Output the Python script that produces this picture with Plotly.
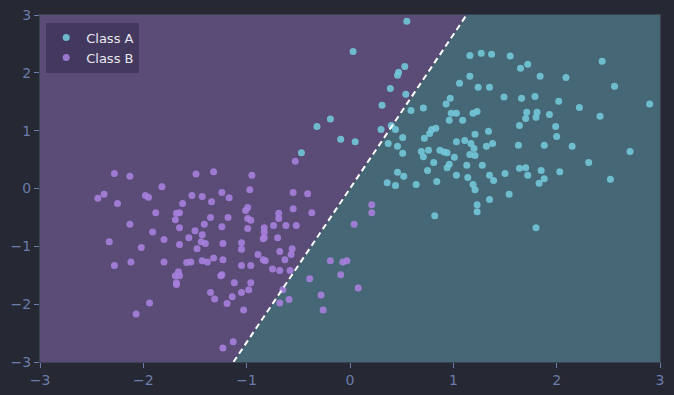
import plotly.graph_objects as go

# ---- data ----
class_a_x = [0.36, 0.44, 0.64, 0.84, 0.82, 0.55, 0.03, 0.53, 0.47, 0.46, 0.39, 0.54, 0.31, -0.19, -0.32,
             -0.09, 0.05, -0.47, 0.30, 0.40, 0.44, 0.59, 0.71, 0.97, 0.93, 0.98, 1.03, 0.96, 1.06, 0.83,
             0.79, 0.77, 0.51, 0.72, 0.37, 0.46, 0.51, 1.03, 0.69, 0.76, 0.71, 0.87, 0.91, 0.94, 1.01,
             0.81, 0.96, 0.94, 0.75, 1.03, 0.46, 0.52, 1.16, 1.27, 1.37, 1.55, 1.65, 1.72, 2.44, 1.16,
             1.24, 1.35, 1.84, 2.09, 2.56, 1.49, 1.66, 1.79, 2.02, 2.22, 2.90, 1.09, 1.19, 1.23, 1.71,
             1.70, 1.81, 1.80, 1.93, 2.42, 1.64, 1.99, 2.00, 1.34, 1.21, 1.11, 1.17, 1.20, 1.32, 1.38,
             1.63, 1.88, 2.15, 2.71, 1.16, 1.21, 2.31, 1.13, 1.28, 1.64, 1.70, 1.85, 2.03, 1.50, 1.35,
             1.39, 1.72, 1.88, 1.83, 1.14, 1.19, 1.21, 2.52, 1.54, 1.35, 1.23, 1.23, 1.80]
class_a_y = [0.10, 0.05, 0.07, 0.12, -0.47, 2.89, 2.37, 2.11, 2.01, 1.96, 1.73, 1.63, 1.44, 1.20, 1.07,
             0.85, 0.81, 0.62, 1.02, 1.09, 1.02, 1.35, 1.39, 1.56, 1.46, 1.30, 1.30, 1.18, 1.82, 1.04,
             1.02, 0.95, 0.88, 0.87, 0.78, 0.73, 0.61, 0.81, 0.64, 0.66, 0.55, 0.66, 0.63, 0.62, 0.54,
             0.45, 0.42, 0.36, 0.31, 0.23, 0.28, 0.21, 2.30, 2.34, 2.32, 2.29, 2.08, 2.15, 2.20, 1.94,
             1.75, 1.75, 1.94, 1.92, 1.77, 1.58, 1.56, 1.59, 1.51, 1.40, 1.46, 1.18, 1.30, 1.33, 1.32,
             1.21, 1.32, 1.23, 1.28, 1.25, 1.09, 1.07, 0.90, 0.99, 0.94, 0.83, 0.78, 0.69, 0.73, 0.78,
             0.75, 0.75, 0.73, 0.64, 0.59, 0.57, 0.45, 0.40, 0.40, 0.35, 0.36, 0.31, 0.29, 0.26, 0.23,
             0.14, 0.23, 0.17, 0.09, 0.19, 0.07, -0.02, 0.16, -0.10, -0.19, -0.28, -0.40, -0.68]

class_b_x = [-2.28, -2.13, -1.49, -1.32, -1.82, -2.44, -2.38, -1.98, -1.95, -1.53, -1.43, -1.24, -1.17,
             -1.34, -2.25, -1.62, -1.88, -1.68, -1.65, -1.69, -1.35, -1.18, -2.13, -1.41, -1.24, -1.65,
             -1.91, -1.50, -1.43, -1.56, -1.80, -2.33, -1.44, -1.40, -1.65, -1.23, -2.02, -1.48, -2.12,
             -1.80, -2.28, -1.58, -1.54, -1.43, -1.38, -1.32, -1.23, -1.66, -1.69, -1.65, -1.68, -1.68,
             -1.24, -1.25, -1.12, -1.35, -1.31, -1.14, -1.19, -1.94, -2.07, -1.23, -1.13, -0.97, -0.55,
             -0.41, -1.01, -0.99, -0.55, -0.69, -0.69, -0.37, -0.99, -0.96, -0.99, -0.83, -0.83, -0.74,
             -0.62, -0.52, -0.84, -0.83, -0.70, -1.05, -1.05, -0.68, -0.56, -0.57, -0.89, -0.63, -0.84,
             -0.82, -1.05, -0.96, -0.75, -0.68, -0.58, -0.96, -0.98, -1.05, -1.03, -0.65, -0.68, -0.59,
             -0.95, -0.53, 0.21, 0.21, 0.04, -0.19, -0.07, -0.03, -0.39, -0.09, 0.08, -0.28, -0.26]
class_b_y = [0.26, 0.21, 0.25, 0.29, 0.03, -0.17, -0.10, -0.12, -0.15, -0.12, -0.14, -0.07, -0.16,
             -0.23, -0.26, -0.26, -0.42, -0.43, -0.42, -0.54, -0.50, -0.50, -0.62, -0.62, -0.66, -0.68,
             -0.75, -0.73, -0.80, -0.85, -0.88, -0.92, -0.92, -0.95, -0.97, -0.95, -1.02, -1.04, -1.27,
             -1.27, -1.33, -1.28, -1.27, -1.25, -1.27, -1.20, -1.23, -1.44, -1.51, -1.51, -1.63, -1.66,
             -1.49, -1.51, -1.63, -1.80, -1.91, -1.87, -1.99, -1.98, -2.17, -2.76, -2.65, -0.02, -0.07,
             -0.09, -0.38, -0.33, -0.35, -0.43, -0.52, -0.42, -0.52, -0.55, -0.69, -0.68, -0.75, -0.64,
             -0.64, -0.64, -0.87, -0.85, -0.85, -0.94, -1.05, -1.09, -1.04, -1.14, -1.14, -1.23, -1.23,
             -1.25, -1.33, -1.33, -1.39, -1.42, -1.42, -1.63, -1.75, -1.80, -2.10, -1.75, -1.98, -1.92,
             0.23, 0.47, -0.28, -0.42, -0.62, -1.25, -1.27, -1.25, -1.56, -1.49, -1.72, -1.84, -2.10]

# decision boundary: y = slope * x + intercept
boundary_slope = 2.66
boundary_intercept = 0.0
axis_range = [-3, 3]
tick_vals = [-3, -2, -1, 0, 1, 2, 3]

# ---- styling ----
BG = "#262833"
PURPLE_REGION = "#5a4c77"
TEAL_REGION = "#466876"
COL_A = "#72c6d8"
COL_B = "#a57fdc"
TICK_COL = "#6c7cab"

lo, hi = axis_range
x_at_lo = (lo - boundary_intercept) / boundary_slope
x_at_hi = (hi - boundary_intercept) / boundary_slope

fig = go.Figure()

# region polygons (upper-left = class B region, lower-right = class A region)
fig.add_trace(go.Scatter(
    x=[lo, x_at_lo, x_at_hi, lo, lo], y=[lo, lo, hi, hi, lo],
    fill="toself", fillcolor=PURPLE_REGION, mode="lines", line=dict(width=0),
    hoverinfo="skip", showlegend=False))
fig.add_trace(go.Scatter(
    x=[x_at_lo, hi, hi, x_at_hi, x_at_lo], y=[lo, lo, hi, hi, lo],
    fill="toself", fillcolor=TEAL_REGION, mode="lines", line=dict(width=0),
    hoverinfo="skip", showlegend=False))

fig.add_trace(go.Scatter(
    x=class_a_x, y=class_a_y, mode="markers", name="Class A",
    marker=dict(color=COL_A, size=7, opacity=0.9, line=dict(width=0))))
fig.add_trace(go.Scatter(
    x=class_b_x, y=class_b_y, mode="markers", name="Class B",
    marker=dict(color=COL_B, size=7, opacity=0.9, line=dict(width=0))))

# boundary line
fig.add_trace(go.Scatter(
    x=[x_at_lo, x_at_hi], y=[lo, hi], mode="lines",
    line=dict(color="white", width=2, dash="6px,4px"),
    hoverinfo="skip", showlegend=False))

axis_common = dict(
    range=axis_range, tickvals=tick_vals, showgrid=True, automargin=False,
    gridcolor="rgba(60,70,85,0.45)", gridwidth=1, zeroline=False,
    showline=True, linecolor="#3a4352", linewidth=1, mirror=True,
    ticks="outside", ticklen=5, tickcolor=TICK_COL, tickwidth=1,
    tickfont=dict(color=TICK_COL, size=14, family="DejaVu Sans"),
)

fig.update_layout(
    width=674, height=395,
    margin=dict(l=40, r=14, t=15, b=33),
    paper_bgcolor=BG, plot_bgcolor=BG,
    xaxis=dict(**axis_common),
    yaxis=dict(**axis_common),
    showlegend=True,
    legend=dict(x=0.01, y=0.978, xanchor="left", yanchor="top",
                bgcolor="rgba(60,50,85,0.75)", borderwidth=0,
                font=dict(color="#e8e8f0", size=13, family="DejaVu Sans"),
                itemsizing="trace", tracegroupgap=0),
)

fig.write_html("out.html")
